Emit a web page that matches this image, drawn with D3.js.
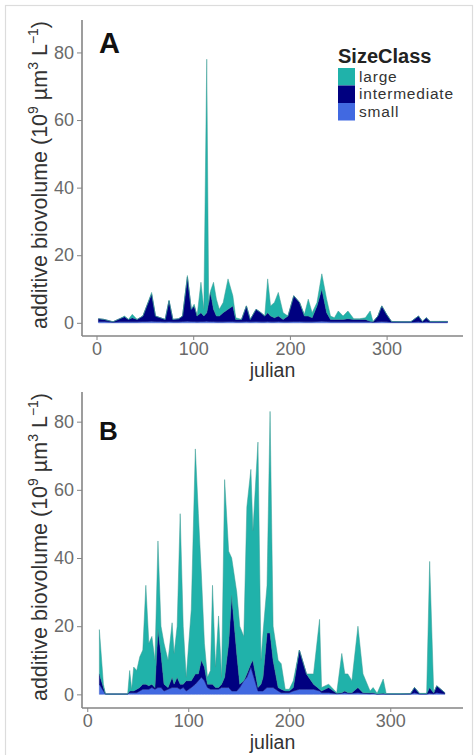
<!DOCTYPE html>
<html lang="en">
<head>
<meta charset="utf-8">
<title>Additive biovolume by size class</title>
<style>
  body { margin: 0; background: #fff; }
  svg { display: block; font-family: "Liberation Sans", Arial, sans-serif; }
</style>
</head>
<body>
<div id="chart"></div>
<script src="https://d3js.org/d3.v7.min.js"></script>
<script>
// size classes, bottom to top of the stack
var sizeClasses = ["small", "intermediate", "large"];
var legendOrder = ["large", "intermediate", "small"];

// panel A
var julianA = [2, 8, 17, 24, 29, 33, 37, 42, 48, 52, 57, 61, 66, 71, 75, 79, 85, 89, 94, 98,
  101, 104, 108, 111, 114, 116, 118, 121, 124, 127, 131, 136, 141, 144, 150, 155, 159, 165, 170, 174,
  177, 180, 184, 188, 193, 198, 204, 210, 215, 219, 223, 228, 233, 238, 242, 246, 250, 255, 260, 266,
  272, 278, 283, 286, 291, 295, 300, 305, 315, 325, 333, 337, 341, 345, 355, 363];
var smallA = [.4, .4, .2, .3, .3, .3, .3, .3, .4, .4, .5, .4, .4, .3, .4, .3, .3, .4, .5, .4,
  .4, .3, .4, .4, .5, .4, .4, .4, .3, .3, .3, .4, .4, .3, .3, .4, .3, .4, .3, .3,
  .4, .3, .3, .4, .3, .3, .4, .4, .3, .3, .3, .4, .5, .4, .3, .3, .3, .3, .3, .3,
  .3, .3, .3, .2, .3, .4, .3, .2, .2, .2, .3, .2, .3, .2, .2, .2];
var intermediateA = [.8, .6, .1, .9, 1.5, .7, 1.2, .7, 1.6, 4.6, 8, 1.6, 1.1, .7, 6.1, .7, .9, 1.6, 13, 3.6,
  4.6, 1.7, 2.6, 1.6, 2.5, 5.6, 8.6, 3.6, 1.7, 1.7, 2.7, 3.6, 4.6, .7, .7, 4.6, .7, 3.6, 2.7, 1.7,
  2.6, 1.7, 1.2, 1.6, .7, 1.7, 7.6, 5.6, 1.7, 1.7, 1.2, 4.6, 9.5, 2.6, .7, .7, .7, .7, .9, .7,
  .7, .7, .2, .1, 1.7, 4.6, 2.2, .2, .1, .1, 1.7, .2, 1.2, .2, .2, .2];
var largeA = [0, 0, 0, 0, .2, 0, 1, 0, 0, 0, .5, 0, 0, 0, .2, 0, 0, 0, .5, 0,
  .5, 0, 9, 2, 75, 0, .5, 8, 5, 2, 3, 9, 3, .5, 0, 0, 0, 0, 0, 0,
  10, 3, 4.5, 7, 2, 0, 0, 0, .5, 5, 1.5, 1, 4.5, 4, 1, .5, 2.5, 1, 2.3, .2,
  .2, .5, 3, 0, 0, 0, 0, 0, 0, 0, 0, 0, 0, 0, 0, 0];

// panel B
var julianB = [12, 16, 18, 30, 40, 42, 44, 46, 49, 52, 55, 58, 61, 64, 67, 70, 73, 76, 80, 84,
  86, 89, 92, 95, 98, 103, 107, 110, 113, 116, 119, 122, 124, 127, 130, 133, 136, 140, 143, 148,
  151, 155, 158, 162, 164, 169, 172, 174, 178, 181, 184, 189, 192, 196, 200, 204, 210, 217, 224, 230,
  232, 239, 247, 252, 255, 258, 262, 268, 273, 280, 283, 287, 293, 296, 310, 320, 324, 329, 336, 339,
  343, 346, 350, 354];
var smallB = [3, 1, .1, .1, .1, .5, .5, .5, .5, 1, 1.5, 1.5, 1.5, 2, 1.5, 2, 2, 1, 1.5, 2,
  2, 2, 1.5, 2, 1, 2, 3, 4, 5, 4, 2, 1.5, 1.5, 1.5, 1.5, 2, 2, 2, 1, 1,
  2, 4, 5, 8, 6, 1, 1, 1, 2, 2, 2, 1, .5, .5, .5, 1, 1.5, 1.5, 1.5, 1,
  .5, .5, .2, .3, .5, .3, .3, .5, .3, .2, .3, .1, .1, .1, .1, .1, .5, .1, .1, .3,
  .2, .5, .3, .2];
var intermediateB = [3, 1, 0, 0, 0, .5, .5, .5, 1, 1, 1.5, 1.5, 1, 1, .5, 17, 10, 2, .5, 3,
  1, 3, 1.5, 1, 3, 2, 3, 2, 5, 4, 1, 1.5, 1.5, .5, .5, 1, 3, 13, 28, 11,
  1, 0, 1, 1, 4, 1, 2, 4, 16, 16, 8, 1, 1, .5, .5, 1, 11.5, 4.5, 1.5, .5,
  .5, 1.5, .1, .2, .5, .2, .2, 1.5, .2, .2, .2, 0, .2, 0, 0, .1, 1.5, .1, .1, 1.7,
  .2, 2, 1.2, .3];
var largeB = [13, 1, 0, 0, 0, 6, .5, 7, 5.5, 9, 10, 29, 12.5, 14, 8, 26, 8, 12, 8, 16,
  9, 15, 50, 17, 1, 21, 66, 47, 25, 7, 2, 4, 29, 6, 21, 2, 58, 27, 11, 18,
  17, 13, 49, 57, 38, 72, 7, 13, 14, 65, 10, 8, 7.5, .5, .5, 2, 0, 0, 3, 20.5,
  1, 1, .2, 11.5, 5, 5.5, 3.5, 18, 5.5, .6, 1.5, .2, 4.2, .1, .1, 0, 0, .1, .1, 37,
  .2, 0, 0, 0];

var yTicks = [0, 20, 40, 60, 80];
var xTicks = [0, 100, 200, 300];

var colors = { large: "#20b2aa", intermediate: "#000080", small: "#4169e1" };
var strokes = { large: "#3a9a93", intermediate: "#0a0a70", small: "#3d5fc8" };

var W = 475, H = 755;
var svg = d3.select("#chart").append("svg")
    .attr("width", W).attr("height", H);

// screenshot frame
svg.append("rect")
    .attr("x", 5.5).attr("y", 5.5).attr("width", 467).attr("height", 770)
    .attr("fill", "none").attr("stroke", "#dcdcdc").attr("stroke-width", 1.2);

function buildRows(jul, s, m, l) {
  return jul.map(function(j, i) {
    return { julian: j, small: s[i], intermediate: m[i], large: l[i] };
  });
}

function panel(opts) {
  var left = 82, right = 463;
  var x = d3.scaleLinear().domain(opts.xDomain).range([left, right]);
  var y = d3.scaleLinear().domain(opts.yDomain).range([opts.bottom, opts.top]);

  var g = svg.append("g");
  var stacked = d3.stack().keys(sizeClasses)(opts.rows);

  var area = d3.area()
      .x(function(d) { return x(d.data.julian); })
      .y0(function(d) { return y(d[0]); })
      .y1(function(d) { return y(d[1]); });

  g.selectAll("path.layer")
    .data(stacked)
    .enter().append("path")
      .attr("class", "layer")
      .attr("d", area)
      .attr("fill", function(d) { return colors[d.key]; })
      .attr("stroke", function(d) { return strokes[d.key]; })
      .attr("stroke-width", 0.5)
      .attr("stroke-linejoin", "round");

  // axes
  var axisColor = "#858585";
  var yAxis = g.append("g")
      .attr("transform", "translate(" + left + ",0)")
      .call(d3.axisLeft(y).tickValues(yTicks).tickSize(5).tickPadding(3));
  var xAxis = g.append("g")
      .attr("transform", "translate(0," + opts.bottom + ")")
      .call(d3.axisBottom(x).tickValues(xTicks).tickSize(4).tickPadding(2));
  [xAxis, yAxis].forEach(function(a) {
    a.select(".domain").attr("stroke", axisColor).attr("stroke-width", 1.6);
    a.selectAll(".tick line").attr("stroke", axisColor).attr("stroke-width", 1);
    a.selectAll(".tick text").attr("fill", "#6a6a6a").style("font-size", "18px");
  });
  yAxis.select(".domain").attr("d", "M0," + opts.bottom + "V" + opts.top);
  xAxis.select(".domain").attr("d", "M" + left + ",0H" + right);

  // panel letter
  g.append("text")
      .attr("x", 99).attr("y", opts.letterY)
      .attr("font-weight", "bold")
      .style("font-size", opts.letterSize + "px")
      .attr("fill", "#111")
      .text(opts.letter);

  // x title
  g.append("text")
      .attr("x", (left + right) / 2).attr("y", opts.titleY)
      .attr("text-anchor", "middle")
      .style("font-size", "19.5px")
      .attr("fill", "#333")
      .text("julian");

  // y title
  var yt = g.append("text")
      .attr("transform", "translate(47," + ((opts.top + opts.bottom) / 2 - 3) + ") rotate(-90)")
      .attr("text-anchor", "middle")
      .style("font-size", "21.5px")
      .attr("fill", "#333");
  yt.append("tspan").text("additive biovolume (10");
  yt.append("tspan").attr("dy", -9).style("font-size", "14px").text("9");
  yt.append("tspan").attr("dy", 9).text(" µm");
  yt.append("tspan").attr("dy", -9).style("font-size", "14px").text("3");
  yt.append("tspan").attr("dy", 9).text(" L");
  yt.append("tspan").attr("dy", -9).style("font-size", "14px").text("−1");
  yt.append("tspan").attr("dy", 9).text(")");

  return g;
}

panel({
  rows: buildRows(julianA, smallA, intermediateA, largeA),
  xDomain: [-15, 379], yDomain: [-3.9, 89.6],
  top: 20, bottom: 336, letter: "A", letterY: 53, letterSize: 29, titleY: 377
});

panel({
  rows: buildRows(julianB, smallB, intermediateB, largeB),
  xDomain: [-5.2, 372], yDomain: [-4.0, 88.7],
  top: 392, bottom: 708, letter: "B", letterY: 440, letterSize: 26, titleY: 749
});

// legend
var lg = svg.append("g").attr("transform", "translate(338,0)");
lg.append("text")
    .attr("x", 0).attr("y", 63)
    .attr("font-weight", "bold")
    .style("font-size", "20px")
    .attr("fill", "#222")
    .text("SizeClass");
var keyY = d3.scaleBand().domain(legendOrder).range([68, 120.5]);
lg.selectAll("rect.key")
  .data(legendOrder)
  .enter().append("rect")
    .attr("class", "key")
    .attr("x", 0).attr("y", function(d) { return keyY(d); })
    .attr("width", 17).attr("height", keyY.bandwidth())
    .attr("fill", function(d) { return colors[d]; });
lg.selectAll("text.lab")
  .data(legendOrder)
  .enter().append("text")
    .attr("class", "lab")
    .attr("x", 21).attr("y", function(d) { return keyY(d) + keyY.bandwidth() - 4; })
    .style("font-size", "15.5px")
    .style("letter-spacing", "0.8px")
    .attr("fill", "#333")
    .text(function(d) { return d; });
</script>
</body>
</html>
